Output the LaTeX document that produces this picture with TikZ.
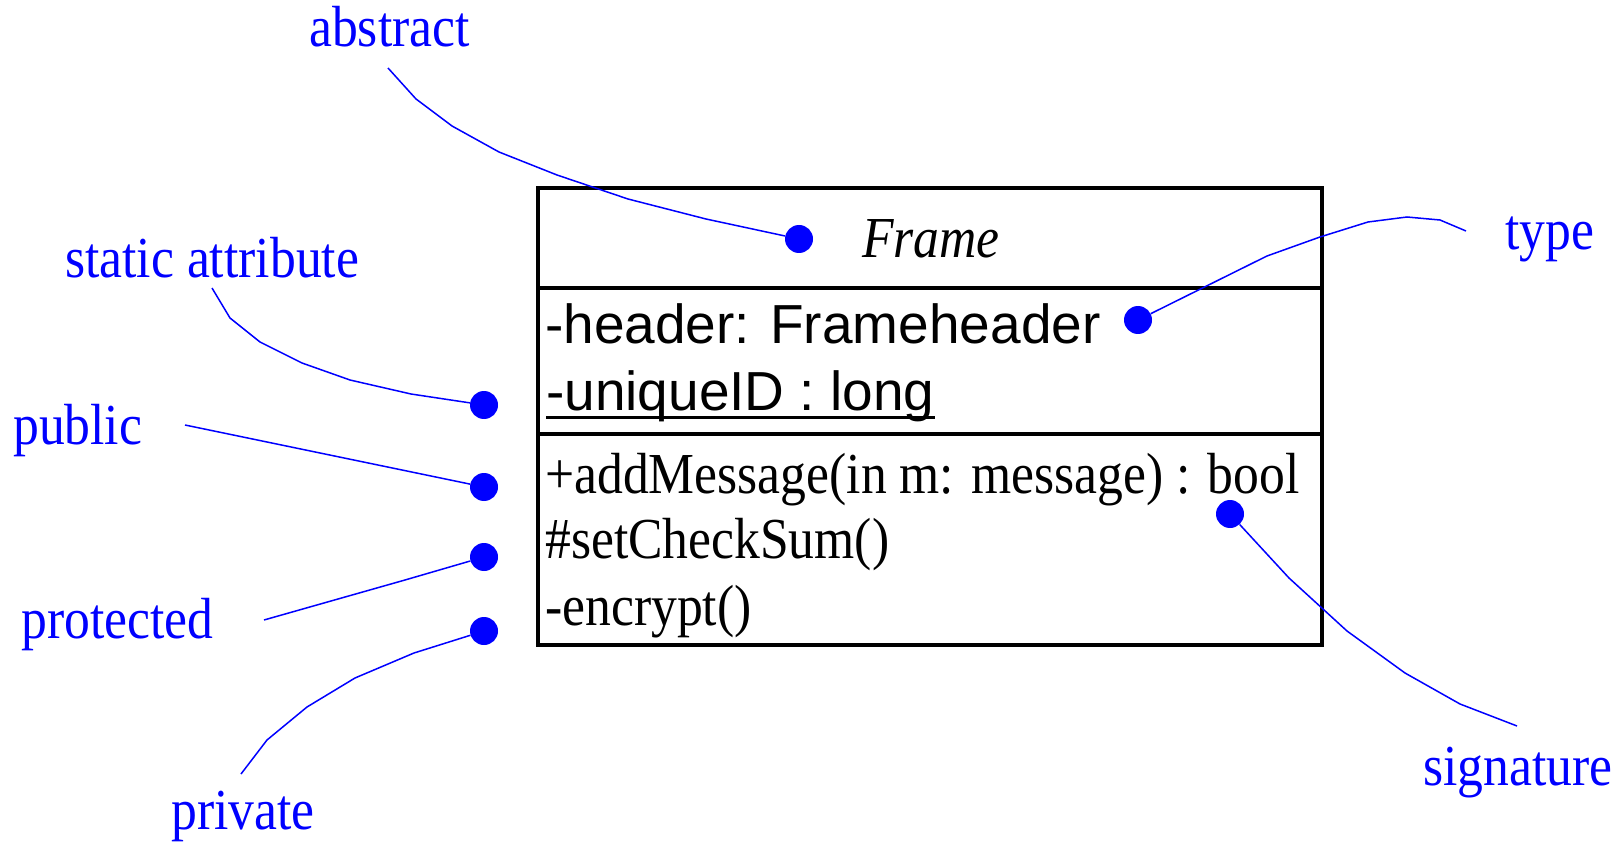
\documentclass[tikz,border=0pt]{standalone}
\usepackage{fontspec}
\setmainfont{Liberation Serif}
\newfontfamily\lblfont[FakeStretch=0.89]{Liberation Serif}
\newfontfamily\sansf{Liberation Sans}
\begin{document}
\begin{tikzpicture}[x=1pt,y=-1pt,
  lbl/.style={font=\lblfont\fontsize{58}{60}\selectfont, text=blue, inner sep=0pt, anchor=base west},
  member/.style={font=\lblfont\fontsize{58}{60}\selectfont, text=black, inner sep=0pt, anchor=base west},
  attr/.style={font=\sansf\fontsize{55}{58}\selectfont, text=black, inner sep=0pt, anchor=base west},
  dot/.style={circle, fill=blue, draw=none, inner sep=0pt, minimum size=28pt},
  conn/.style={draw=blue, line width=1.5pt, line join=miter},
  frameline/.style={draw=black, line width=4pt}]
\useasboundingbox (0,0) rectangle (1623,842);
% class box
\node[frameline, rectangle, inner sep=0pt, minimum width=784pt, minimum height=457pt] (cls) at (930,416.5) {};
\draw[frameline] (cls.west |- 0,288) coordinate (s1a) -- (cls.east |- 0,288) coordinate (s1b);
\draw[frameline] (cls.west |- 0,434) coordinate (s2a) -- (cls.east |- 0,434) coordinate (s2b);
% class texts
\node[member, font=\lblfont\itshape\fontsize{58}{60}\selectfont, anchor=base] (cname) at (931,258) {Frame};
\node[attr] (hdr) at (545,344) {-header: Frameheader};
\node[attr] (uid) at (546,410) {-uniqueID : long};
\draw[line width=3pt] ([yshift=-7pt]uid.base west) -- ([yshift=-7pt]uid.base east);
\node[member] (m1) at (545,493) {+addMessage(in m: message) : bool};
\node[member] (m2) at (545,558) {\#setCheckSum()};
\node[member] (m3) at (545,625) {-encrypt()};
% dots
\node[dot] (dabs) at (799,239) {};
\node[dot] (dtype) at (1138,320) {};
\node[dot] (dstat) at (484,405) {};
\node[dot] (dpub) at (484,487) {};
\node[dot] (dprot) at (484,557) {};
\node[dot] (dpriv) at (484,631) {};
\node[dot] (dsig) at (1230,514) {};
% labels
\node[lbl] (labs) at (309,47) {abstract};
\node[lbl] (lstat) at (65,278) {static attribute};
\node[lbl] (lpub) at (13,444) {public};
\node[lbl] (lprot) at (21,638) {protected};
\node[lbl] (lpriv) at (171,829) {private};
\node[lbl] (ltype) at (1505,250) {type};
\node[lbl] (lsig) at (1423,785) {signature};
% connector start points
\coordinate (cabs) at (388,68);
\coordinate (cstat) at (212,288);
\coordinate (cpub) at (185,425);
\coordinate (cprot) at (264,620);
\coordinate (cpriv) at (241,774);
\coordinate (ctype) at (1466,231);
\coordinate (csig) at (1517,726);
% connectors
\draw[conn] (cabs) -- (416,99) -- (452,126) -- (499,152) -- (557,175) -- (628,199) -- (706,219) -- (dabs);
\draw[conn] (cstat) -- (230,318) -- (260,342) -- (302,363) -- (350,380) -- (411,394) -- (dstat);
\draw[conn] (cpub) -- (dpub);
\draw[conn] (cprot) -- (405,580) -- (dprot);
\draw[conn] (cpriv) -- (267,740) -- (307,707) -- (355,678) -- (414,653) -- (dpriv);
\draw[conn] (ctype) -- (1440,220) -- (1407,217) -- (1368,222) -- (1320,237) -- (1267,256) -- (dtype);
\draw[conn] (csig) -- (1460,704) -- (1405,673) -- (1347,631) -- (1289,578) -- (dsig);
\end{tikzpicture}
\end{document}
